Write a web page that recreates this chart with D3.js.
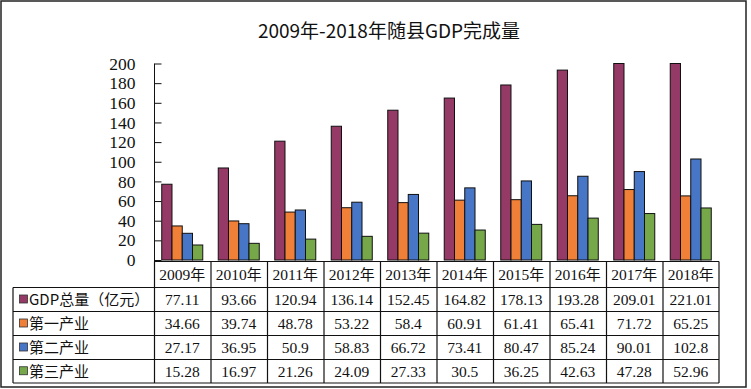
<!DOCTYPE html>
<html>
<head>
<meta charset="utf-8">
<script src="https://cdn.jsdelivr.net/npm/d3@7"></script>
<style>
  body { margin: 0; background: #fff; }
  svg { display: block; }
</style>
</head>
<body>
<svg width="751" height="389"></svg>
<script>
// data
var years = ["2009年", "2010年", "2011年", "2012年", "2013年", "2014年", "2015年", "2016年", "2017年", "2018年"];
var seriesNames = ["GDP总量（亿元）", "第一产业", "第二产业", "第三产业"];
var gdpTotal = [77.11, 93.66, 120.94, 136.14, 152.45, 164.82, 178.13, 193.28, 209.01, 221.01];
var primary = [34.66, 39.74, 48.78, 53.22, 58.4, 60.91, 61.41, 65.41, 71.72, 65.25];
var secondary = [27.17, 36.95, 50.9, 58.83, 66.72, 73.41, 80.47, 85.24, 90.01, 102.8];
var tertiary = [15.28, 16.97, 21.26, 24.09, 27.33, 30.5, 36.25, 42.63, 47.28, 52.96];
var yTicks = [0, 20, 40, 60, 80, 100, 120, 140, 160, 180, 200];

var values = [gdpTotal, primary, secondary, tertiary];
var colors = ["#953a66", "#f07f38", "#4776c6", "#76a84a"];

var svg = d3.select("svg");

var plot = { left: 154, right: 719, top: 63.5, bottom: 260 };
var tableLeft = 13;
var rowLines = [261.5, 287.5, 311.5, 335.5, 359.5, 383];

var serif = "'Liberation Serif', 'DejaVu Serif', serif";
var cjk = "'Noto Sans CJK SC', sans-serif";

// outer frame
svg.append("rect")
  .attr("x", 1).attr("y", 1)
  .attr("width", 745).attr("height", 386)
  .attr("fill", "#fff")
  .attr("stroke", "#222")
  .attr("stroke-width", 1.5);

// title
svg.append("text")
  .attr("x", 389)
  .attr("y", 38)
  .attr("text-anchor", "middle")
  .attr("font-family", cjk)
  .attr("font-size", 19)
  .attr("fill", "#111")
  .text("2009年-2018年随县GDP完成量");

// scales
var x0 = d3.scaleBand()
  .domain(years)
  .range([plot.left, plot.right]);

var bw = x0.bandwidth();
var gw = bw * 0.726;

var x1 = d3.scaleBand()
  .domain(d3.range(seriesNames.length))
  .range([(bw - gw) / 2, (bw + gw) / 2]);

var y = d3.scaleLinear()
  .domain([0, 200])
  .range([plot.bottom, plot.top])
  .clamp(true);

// y axis
var yAxis = d3.axisLeft(y)
  .tickValues(yTicks)
  .tickSize(-7)
  .tickPadding(19);

var gy = svg.append("g")
  .attr("transform", "translate(" + (plot.left + 0.5) + ",0)")
  .call(yAxis);
gy.select(".domain").remove();
gy.selectAll(".tick line").attr("stroke", "#111");
gy.selectAll(".tick text")
  .attr("font-family", serif)
  .attr("font-size", 17.5)
  .attr("fill", "#111");

svg.append("line")
  .attr("x1", plot.left + 0.5).attr("x2", plot.left + 0.5)
  .attr("y1", plot.top).attr("y2", rowLines[0])
  .attr("stroke", "#111");

// bars
var groups = svg.selectAll("g.year")
  .data(years)
  .enter()
  .append("g")
  .attr("class", "year")
  .attr("transform", function(d) { return "translate(" + x0(d) + ",0)"; });

groups.selectAll("rect")
  .data(function(d, i) { return values.map(function(s, k) { return { k: k, v: s[i] }; }); })
  .enter()
  .append("rect")
  .attr("x", function(d) { return x1(d.k); })
  .attr("y", function(d) { return y(d.v); })
  .attr("width", x1.bandwidth())
  .attr("height", function(d) { return y(0) - y(d.v); })
  .attr("fill", function(d) { return colors[d.k]; })
  .attr("stroke", "#111")
  .attr("stroke-width", 1);

// data table
var table = svg.append("g").attr("stroke", "#111").attr("stroke-width", 1.2);

table.append("line")
  .attr("x1", plot.left).attr("x2", plot.right)
  .attr("y1", rowLines[0]).attr("y2", rowLines[0]);

rowLines.slice(1).forEach(function(ry) {
  table.append("line")
    .attr("x1", tableLeft).attr("x2", plot.right)
    .attr("y1", ry).attr("y2", ry);
});

table.append("line")
  .attr("x1", tableLeft).attr("x2", tableLeft)
  .attr("y1", rowLines[1]).attr("y2", rowLines[5]);

years.forEach(function(yr) {
  table.append("line")
    .attr("x1", x0(yr) + 0.5).attr("x2", x0(yr) + 0.5)
    .attr("y1", rowLines[0]).attr("y2", rowLines[5]);
});
table.append("line")
  .attr("x1", plot.right).attr("x2", plot.right)
  .attr("y1", rowLines[0]).attr("y2", rowLines[5]);

// header row
svg.selectAll("text.yr")
  .data(years)
  .enter()
  .append("text")
  .attr("class", "yr")
  .attr("x", function(d) { return x0(d) + bw / 2; })
  .attr("y", (rowLines[0] + rowLines[1]) / 2 + 5.5)
  .attr("text-anchor", "middle")
  .attr("fill", "#111")
  .attr("font-size", 15.5)
  .each(function(d) {
    var t = d3.select(this);
    t.append("tspan").attr("font-family", serif).text(d.slice(0, 4));
    t.append("tspan").attr("font-family", cjk).attr("font-size", 15).text(d.slice(4));
  });

// value rows
values.forEach(function(s, k) {
  var cy = (rowLines[k + 1] + rowLines[k + 2]) / 2;

  svg.append("rect")
    .attr("x", 19.5).attr("y", cy - 4.5)
    .attr("width", 8).attr("height", 8)
    .attr("fill", colors[k])
    .attr("stroke", "#333")
    .attr("stroke-width", 0.8);

  svg.append("text")
    .attr("x", 29)
    .attr("y", cy + 5.5)
    .attr("font-family", cjk)
    .attr("font-size", 15)
    .attr("fill", "#111")
    .text(seriesNames[k]);

  svg.selectAll("text.v" + k)
    .data(s)
    .enter()
    .append("text")
    .attr("class", "v" + k)
    .attr("x", function(d, i) { return x0(years[i]) + bw / 2; })
    .attr("y", cy + 5.5)
    .attr("text-anchor", "middle")
    .attr("font-family", serif)
    .attr("font-size", 15.5)
    .attr("fill", "#111")
    .text(function(d) { return d; });
});
</script>
</body>
</html>
